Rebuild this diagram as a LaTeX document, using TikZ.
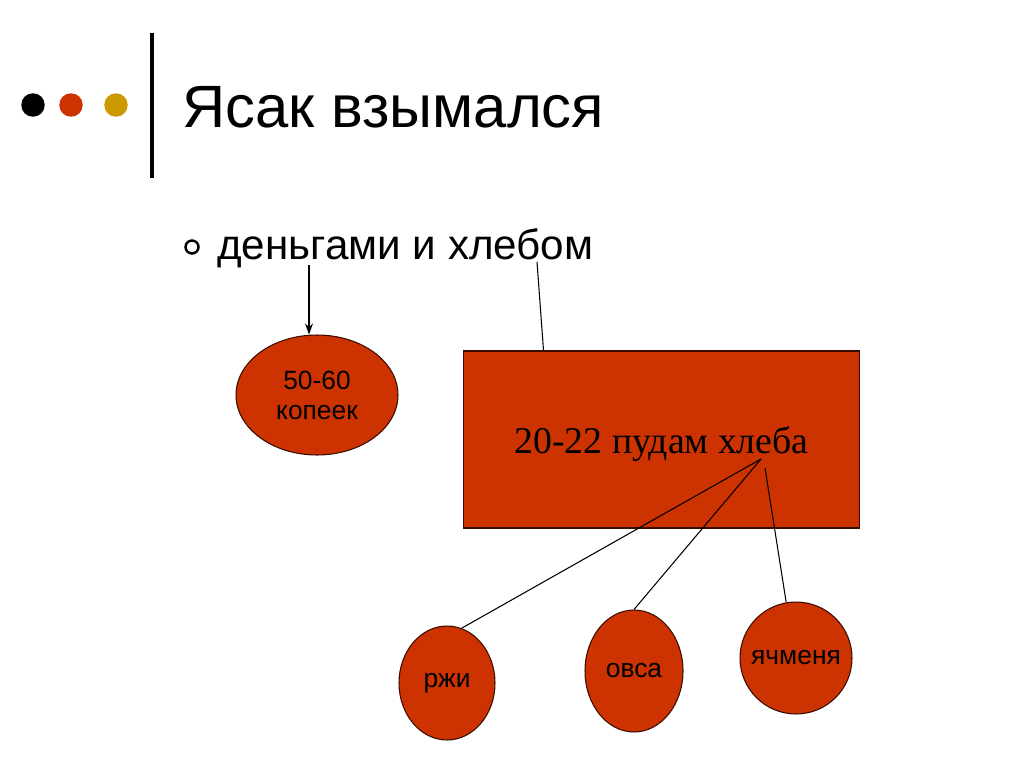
\documentclass[tikz,border=0pt]{standalone}
\usepackage{fontspec}
\setmainfont{Liberation Sans}
\newfontfamily\serifru{Liberation Serif}
\usetikzlibrary{arrows.meta,positioning,calc,shapes.geometric}
\definecolor{rouille}{HTML}{CC3300}
\definecolor{ocre}{HTML}{CC9900}
\definecolor{bord}{HTML}{3A0C00}
\tikzset{
  ovale/.style={ellipse, draw=bord, line width=0.6pt, fill=rouille, inner sep=0pt,
                align=center, font=\fontsize{15}{17}\selectfont},
  boite/.style={rectangle, draw=bord, line width=0.6pt, fill=rouille, inner sep=0pt},
  arr/.style={-{Stealth[length=2.2mm,width=1.6mm]}, line width=0.6pt},
  lien/.style={line width=0.6pt},
  puce/.style={circle, inner sep=0pt, minimum size=0.47cm},
}
\begin{document}
\begin{tikzpicture}[x=0.02cm, y=-0.02cm]
  \useasboundingbox (0,0) rectangle (1024,767);
  % en-tete
  \node[puce, fill=black] (d1) at (33,105) {};
  \node[puce, fill=rouille] (d2) at (71,105) {};
  \node[puce, fill=ocre] (d3) at (116,105) {};
  \draw[line width=2.2pt] (152,33) -- (152,178);
  \node[anchor=base west, font=\fontsize{34}{38}\selectfont, inner sep=0pt] (titre) at (182,128) {Ясак взымался};
  \node[circle, draw, line width=1.4pt, minimum size=0.26cm, inner sep=0pt] (p) at (192,247) {};
  \node[anchor=base west, font=\fontsize{24}{28}\selectfont, inner sep=0pt] (sub) at (217,259) {деньгами и хлебом};
  % formes
  \node[ovale, minimum width=3.24cm, minimum height=2.4cm] (money) at (317,395) {50-60\\копеек};
  \node[boite, minimum width=7.94cm, minimum height=3.54cm] (grain) at (661.5,439.5) {};
  \node[font=\serifru\fontsize{21.5}{24}\selectfont] (gt) at ($(grain.center)+(0,5)$) {20-22 пудам хлеба};
  \node[ovale, minimum width=1.92cm, minimum height=2.28cm] (rye) at (447,683) {ржи};
  \node[ovale, minimum width=1.96cm, minimum height=2.44cm] (oats) at (634,671) {овса};
  \node[ovale, inner xsep=-3.5pt, minimum width=2.24cm, minimum height=2.24cm] (barley) at (796,658) {ячменя};
  % liens
  \coordinate (m1) at (309,265);
  \coordinate (h1) at (537,262);
  \coordinate (hub) at (761,459);
  \coordinate (hub2) at (765,468);
  \draw[arr] (m1) -- (m1 |- money.north);
  \draw[lien] (h1) -- ($(grain.north west)+(81,0)$);
  \draw[lien] (hub) -- (rye.75);
  \draw[lien] (hub) -- (oats.north);
  \draw[lien] (hub2) -- (barley.100);
\end{tikzpicture}
\end{document}
